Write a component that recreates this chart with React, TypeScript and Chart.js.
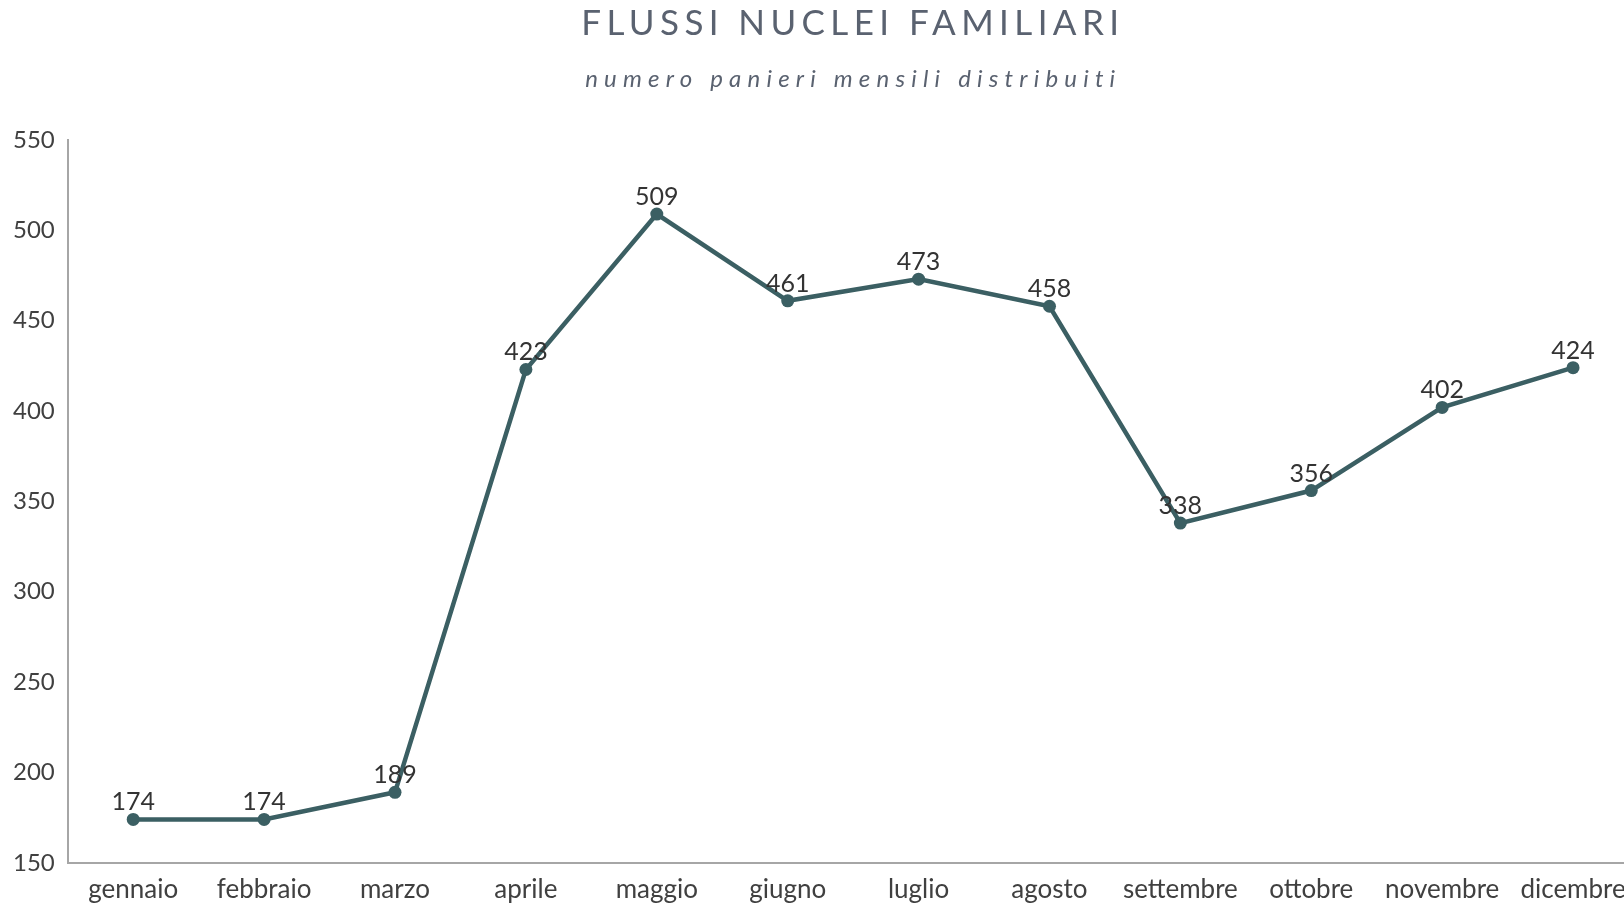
import React, { useEffect, useRef } from "react";
import { Chart, registerables } from "chart.js";

Chart.register(...registerables);

const months = ["gennaio", "febbraio", "marzo", "aprile", "maggio", "giugno", "luglio", "agosto", "settembre", "ottobre", "novembre", "dicembre"];
const baskets = [174, 174, 189, 423, 509, 461, 473, 458, 338, 356, 402, 424];
const yTicks = [150, 200, 250, 300, 350, 400, 450, 500, 550];
const titleText = "FLUSSI NUCLEI FAMILIARI";
const subtitleText = "numero panieri mensili distribuiti";

const FONT = "Lato, 'Open Sans', sans-serif";
const LINE_COLOR = "#3b5f63";

const titlePlugin = {
  id: "customTitles",
  afterDraw(chart: any) {
    const { ctx, chartArea } = chart;
    const cx = (chartArea.left + chartArea.right) / 2;
    ctx.save();
    ctx.textAlign = "center";
    ctx.textBaseline = "middle";
    ctx.fillStyle = "#5a6270";
    ctx.font = `35px ${FONT}`;
    (ctx as any).letterSpacing = "5.4px";
    ctx.fillText(titleText, cx + 2.7 - 3, 24);
    ctx.font = `italic 24px ${FONT}`;
    (ctx as any).letterSpacing = "6.2px";
    ctx.fillText(subtitleText, cx + 3.1 - 3, 79);
    ctx.restore();
  },
};

const labelPlugin = {
  id: "pointLabels",
  afterDatasetsDraw(chart: any) {
    const { ctx } = chart;
    const meta = chart.getDatasetMeta(0);
    ctx.save();
    ctx.textAlign = "center";
    ctx.textBaseline = "alphabetic";
    ctx.fillStyle = "#333333";
    ctx.font = `25px ${FONT}`;
    meta.data.forEach((pt: any, i: number) => {
      ctx.fillText(String(baskets[i]), pt.x, pt.y - 9);
    });
    ctx.restore();
  },
};

export default function App() {
  const ref = useRef<HTMLCanvasElement | null>(null);
  useEffect(() => {
    if (!ref.current) return;
    const chart = new Chart(ref.current, {
      type: "line",
      data: {
        labels: months,
        datasets: [
          {
            data: baskets,
            borderColor: LINE_COLOR,
            backgroundColor: LINE_COLOR,
            borderWidth: 4.5,
            pointRadius: 6.5,
            pointBackgroundColor: LINE_COLOR,
            pointBorderWidth: 0,
            tension: 0,
          },
        ],
      },
      options: {
        animation: false,
        responsive: true,
        maintainAspectRatio: false,
        layout: { padding: { top: 140, left: 0, right: 2, bottom: -13 } },
        plugins: { legend: { display: false }, title: { display: false }, tooltip: { enabled: false } },
        scales: {
          x: {
            offset: true,
            grid: { display: false, drawTicks: false },
            border: { color: "#a6a6a6", width: 2 },
            ticks: { color: "#404040", font: { family: FONT, size: 26 }, padding: 11, maxRotation: 0, autoSkip: false },
          },
          y: {
            min: yTicks[0],
            max: yTicks[yTicks.length - 1],
            afterBuildTicks: (axis: any) => {
              axis.ticks = yTicks.map((v) => ({ value: v }));
            },
            grid: { display: false, drawTicks: false },
            border: { color: "#a6a6a6", width: 2 },
            ticks: { color: "#404040", font: { family: FONT, size: 24 }, padding: 13 },
          },
        },
      },
      plugins: [titlePlugin, labelPlugin],
    });
    return () => chart.destroy();
  }, []);
  return (
    <div style={{ position: "fixed", left: 0, top: 0, width: 1624, height: 903, overflow: "hidden", background: "#fff" }}>
      <div style={{ position: "absolute", left: 0, top: 0, width: 1645, height: 903 }}>
        <canvas ref={ref} />
      </div>
    </div>
  );
}
